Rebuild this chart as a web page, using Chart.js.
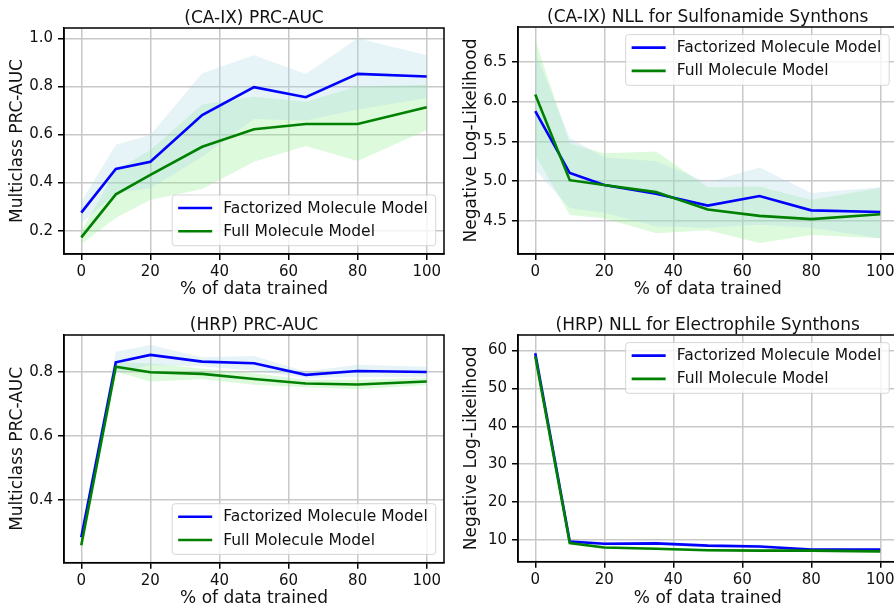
<!DOCTYPE html>
<html><head><meta charset="utf-8">
<script src="https://cdn.jsdelivr.net/npm/chart.js@4.4.1/dist/chart.umd.min.js"></script>
<style>
html,body{margin:0;padding:0;background:#fff;}
#wrap{position:relative;width:894px;height:605px;overflow:hidden;background:#fff;}
#wrap canvas{position:absolute;}
</style></head><body>
<div id="wrap">
<canvas id="c1" width="447" height="300" style="left:0;top:0"></canvas>
<canvas id="c2" width="447" height="300" style="left:454px;top:0"></canvas>
<canvas id="c3" width="447" height="302" style="left:0;top:307px"></canvas>
<canvas id="c4" width="447" height="302" style="left:454px;top:307px"></canvas>
</div>
<script>
// ---------- data ----------
const xPct = [0, 10, 20, 35, 50, 65, 80, 100];
const xTicks = [0, 20, 40, 60, 80, 100];
const seriesNames = ['Factorized Molecule Model', 'Full Molecule Model'];
const xLabel = '% of data trained';

const caixAucTitle = '(CA-IX) PRC-AUC';
const caixAucFact   = [0.275, 0.457, 0.487, 0.681, 0.797, 0.755, 0.852, 0.841];
const caixAucFactLo = [0.230, 0.357, 0.376, 0.507, 0.664, 0.658, 0.704, 0.752];
const caixAucFactHi = [0.320, 0.557, 0.598, 0.855, 0.930, 0.852, 1.000, 0.930];
const caixAucFull   = [0.172, 0.351, 0.432, 0.549, 0.622, 0.644, 0.644, 0.713];
const caixAucFullLo = [0.145, 0.253, 0.328, 0.373, 0.487, 0.552, 0.490, 0.619];
const caixAucFullHi = [0.200, 0.449, 0.536, 0.725, 0.757, 0.736, 0.800, 0.807];
const caixAucTicks = [0.2, 0.4, 0.6, 0.8, 1.0];

const caixNllTitle = '(CA-IX) NLL for Sulfonamide Synthons';
const caixNllFact   = [5.88, 5.10, 4.95, 4.84, 4.69, 4.81, 4.63, 4.61];
const caixNllFactLo = [5.14, 4.66, 4.60, 4.43, 4.41, 4.45, 4.41, 4.28];
const caixNllFactHi = [6.62, 5.54, 5.30, 5.25, 4.98, 5.17, 4.85, 4.92];
const caixNllFull   = [6.09, 5.01, 4.95, 4.86, 4.64, 4.56, 4.52, 4.58];
const caixNllFullLo = [5.33, 4.57, 4.53, 4.34, 4.38, 4.22, 4.32, 4.28];
const caixNllFullHi = [6.78, 5.47, 5.35, 5.37, 4.92, 4.93, 4.76, 4.91];
const caixNllTicks = [4.5, 5.0, 5.5, 6.0, 6.5];

const hrpAucTitle = '(HRP) PRC-AUC';
const hrpAucFact   = [0.284, 0.829, 0.852, 0.831, 0.826, 0.790, 0.802, 0.799];
const hrpAucFactLo = [0.270, 0.796, 0.820, 0.817, 0.803, 0.780, 0.783, 0.783];
const hrpAucFactHi = [0.300, 0.862, 0.883, 0.845, 0.849, 0.800, 0.821, 0.815];
const hrpAucFull   = [0.259, 0.815, 0.798, 0.793, 0.777, 0.763, 0.760, 0.769];
const hrpAucFullLo = [0.250, 0.800, 0.769, 0.776, 0.759, 0.751, 0.745, 0.758];
const hrpAucFullHi = [0.270, 0.830, 0.825, 0.810, 0.795, 0.775, 0.775, 0.780];
const hrpAucTicks = [0.4, 0.6, 0.8];

const hrpNllTitle = '(HRP) NLL for Electrophile Synthons';
const hrpNllFact   = [59.3, 9.6, 9.0, 9.1, 8.5, 8.3, 7.5, 7.5];
const hrpNllFactLo = [58.8, 9.1, 8.5, 8.6, 8.0, 7.8, 7.1, 7.1];
const hrpNllFactHi = [59.8, 10.1, 9.5, 9.6, 9.0, 8.8, 7.9, 7.9];
const hrpNllFull   = [58.5, 9.2, 8.0, 7.7, 7.3, 7.2, 7.2, 7.0];
const hrpNllFullLo = [58.1, 8.8, 7.6, 7.3, 6.9, 6.8, 6.8, 6.6];
const hrpNllFullHi = [58.9, 9.6, 8.4, 8.1, 7.7, 7.6, 7.6, 7.4];
const hrpNllTicks = [10, 20, 30, 40, 50, 60];

// ---------- styling ----------
const FONT = "'DejaVu Sans', sans-serif";
const TXT = '#111';
const GRID = '#c8c8c8';
const BLUE = '#0000ff', GREEN = '#008000';
const BLUE_BAND = 'rgba(173,216,230,0.3)';
const GREEN_BAND = 'rgba(144,238,144,0.3)';

function pts(vals) { return xPct.map((x, i) => ({x: x, y: vals[i]})); }

function framePlugin() {
  return { id: 'frame', afterDatasetsDraw(chart) {
    const a = chart.chartArea, c = chart.ctx;
    c.save(); c.strokeStyle = '#000'; c.lineWidth = 1.5;
    c.strokeRect(a.left, a.top, a.right - a.left, a.bottom - a.top);
    c.restore();
  }};
}
function titlePlugin(text) {
  return { id: 'ptitle', afterDraw(chart) {
    const a = chart.chartArea, c = chart.ctx;
    c.save(); c.font = '17px ' + FONT; c.fillStyle = TXT;
    c.textAlign = 'center'; c.textBaseline = 'alphabetic';
    c.fillText(text, (a.left + a.right) / 2, a.top - 5);
    c.restore();
  }};
}
function legendPlugin(where) {
  return { id: 'plegend', afterDraw(chart) {
    const a = chart.chartArea, c = chart.ctx;
    c.save(); c.font = '15.5px ' + FONT;
    const tw = Math.max(...seriesNames.map(n => c.measureText(n).width));
    const w = 51 + tw + 8, h = 50.7;
    const x = a.right - 8.3 - w;
    const y = where === 'lower' ? a.bottom - 8.3 - h : a.top + 7.6;
    c.beginPath();
    const r = 3;
    c.moveTo(x + r, y); c.lineTo(x + w - r, y); c.arcTo(x + w, y, x + w, y + r, r);
    c.lineTo(x + w, y + h - r); c.arcTo(x + w, y + h, x + w - r, y + h, r);
    c.lineTo(x + r, y + h); c.arcTo(x, y + h, x, y + h - r, r);
    c.lineTo(x, y + r); c.arcTo(x, y, x + r, y, r); c.closePath();
    c.fillStyle = 'rgba(255,255,255,0.8)'; c.fill();
    c.strokeStyle = 'rgba(204,204,204,0.8)'; c.lineWidth = 1; c.stroke();
    const cols = [BLUE, GREEN];
    seriesNames.forEach((n, i) => {
      const ry = y + 13 + i * 23.3;
      c.strokeStyle = cols[i]; c.lineWidth = 2.6; c.beginPath();
      c.moveTo(x + 6, ry); c.lineTo(x + 40, ry); c.stroke();
      c.fillStyle = TXT; c.textAlign = 'left'; c.textBaseline = 'middle';
      c.fillText(n, x + 51, ry + 0.5);
    });
    c.restore();
  }};
}

function makeChart(id, cfg) {
  const ds = [
    {data: pts(cfg.full), borderColor: GREEN, borderWidth: 2.6, fill: false, pointRadius: 0},
    {data: pts(cfg.fact), borderColor: BLUE, borderWidth: 2.6, fill: false, pointRadius: 0},
    {data: pts(cfg.factLo), borderWidth: 0, borderColor: 'rgba(0,0,0,0)', pointRadius: 0, fill: false},
    {data: pts(cfg.factHi), borderWidth: 0, borderColor: 'rgba(0,0,0,0)', pointRadius: 0, fill: 2, backgroundColor: BLUE_BAND},
    {data: pts(cfg.fullLo), borderWidth: 0, borderColor: 'rgba(0,0,0,0)', pointRadius: 0, fill: false},
    {data: pts(cfg.fullHi), borderWidth: 0, borderColor: 'rgba(0,0,0,0)', pointRadius: 0, fill: 4, backgroundColor: GREEN_BAND}
  ];
  const tickFont = {family: FONT, size: 15};
  const titleFont = {family: FONT, size: 17};
  return new Chart(document.getElementById(id), {
    type: 'line',
    data: {datasets: ds},
    options: {
      responsive: false, animation: false, devicePixelRatio: 1,
      layout: {padding: {top: cfg.padTop, right: cfg.padRight, left: 0, bottom: 0}},
      plugins: {legend: {display: false}, tooltip: {enabled: false}, filler: {propagate: false}},
      elements: {line: {tension: 0}, point: {radius: 0}},
      scales: {
        x: {
          type: 'linear', min: -5, max: 105,
          afterBuildTicks: s => { s.ticks = xTicks.map(v => ({value: v})); },
          afterFit: s => { s.height = cfg.xH; },
          grid: {color: GRID, lineWidth: 1.5, tickColor: '#000', tickLength: 6, tickWidth: 1.5},
          border: {color: '#000', width: 1.5},
          ticks: {font: tickFont, color: TXT, padding: 3, maxRotation: 0, autoSkip: false,
                  callback: v => String(v)},
          title: {display: true, text: xLabel, font: titleFont, color: TXT, padding: {top: 0, bottom: 0}}
        },
        y: {
          type: 'linear', min: cfg.ymin, max: cfg.ymax,
          afterBuildTicks: s => { s.ticks = cfg.yTicks.map(v => ({value: v})); },
          afterFit: s => { s.width = 64; },
          grid: {color: GRID, lineWidth: 1.5, tickColor: '#000', tickLength: 6, tickWidth: 1.5},
          border: {color: '#000', width: 1.5},
          ticks: {font: tickFont, color: TXT, padding: 5, autoSkip: false,
                  callback: v => Number(v).toFixed(cfg.dec)},
          title: {display: true, text: cfg.ylabel, font: titleFont, color: TXT, padding: {top: 7, bottom: 0}}
        }
      }
    },
    plugins: [framePlugin(), titlePlugin(cfg.title), legendPlugin(cfg.legend)]
  });
}

makeChart('c1', {title: caixAucTitle, ylabel: 'Multiclass PRC-AUC', fact: caixAucFact, factLo: caixAucFactLo, factHi: caixAucFactHi,
  full: caixAucFull, fullLo: caixAucFullLo, fullHi: caixAucFullHi, yTicks: caixAucTicks, dec: 1,
  ymin: 0.103, ymax: 1.043, padTop: 28, padRight: 3, xH: 46, legend: 'lower'});
makeChart('c2', {title: caixNllTitle, ylabel: 'Negative Log-Likelihood', fact: caixNllFact, factLo: caixNllFactLo, factHi: caixNllFactHi,
  full: caixNllFull, fullLo: caixNllFullLo, fullHi: caixNllFullHi, yTicks: caixNllTicks, dec: 1,
  ymin: 4.08, ymax: 6.94, padTop: 27, padRight: 3.5, xH: 46, legend: 'upper'});
makeChart('c3', {title: hrpAucTitle, ylabel: 'Multiclass PRC-AUC', fact: hrpAucFact, factLo: hrpAucFactLo, factHi: hrpAucFactHi,
  full: hrpAucFull, fullLo: hrpAucFullLo, fullHi: hrpAucFullHi, yTicks: hrpAucTicks, dec: 1,
  ymin: 0.205, ymax: 0.914, padTop: 28, padRight: 3, xH: 46.3, legend: 'lower'});
makeChart('c4', {title: hrpNllTitle, ylabel: 'Negative Log-Likelihood', fact: hrpNllFact, factLo: hrpNllFactLo, factHi: hrpNllFactHi,
  full: hrpNllFull, fullLo: hrpNllFullLo, fullHi: hrpNllFullHi, yTicks: hrpNllTicks, dec: 0,
  ymin: 4.27, ymax: 64.1, padTop: 28, padRight: 3.5, xH: 47.3, legend: 'upper'});
</script>
</body></html>
